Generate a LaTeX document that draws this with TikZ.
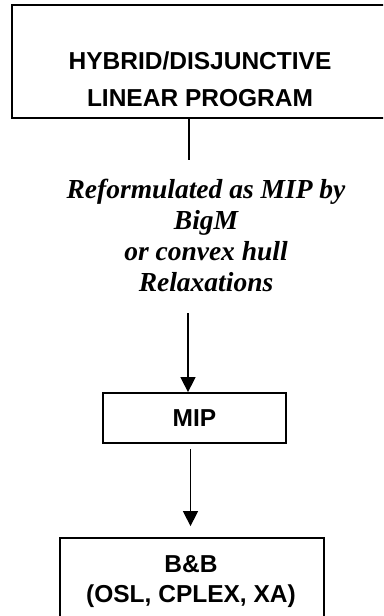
\documentclass[tikz,border=0pt]{standalone}
\usepackage{fontspec}
\setmainfont{Liberation Serif}
\setsansfont{Liberation Sans}
\usetikzlibrary{arrows.meta}
\tikzset{
  boxed/.style={draw=black, line width=1.8pt, inner sep=0pt},
  sanslabel/.style={font=\sffamily\bfseries\fontsize{24.5}{37}\selectfont, align=center, inner sep=0pt},
  itallabel/.style={font=\rmfamily\bfseries\itshape\fontsize{27.5}{31.3}\selectfont, align=center, inner sep=0pt},
  conn/.style={line width=1.5pt},
  arr/.style={line width=1.5pt, -{Triangle[length=15pt,width=15pt]}}
}
\begin{document}
\begin{tikzpicture}[x=1pt,y=-1pt]
\useasboundingbox (0,0) rectangle (383,616);
\clip (0,0) rectangle (383,616);
\fill[white] (0,0) rectangle (383,616);
% top box
\node[boxed, minimum width=376pt, minimum height=113pt] (top) at (200,61.5) {};
\node[sanslabel] (toptext) at (200,79.5) {HYBRID/DISJUNCTIVE\\LINEAR PROGRAM};
% reformulation text
\node[itallabel] (reform) at (206,235.5) {Reformulated as MIP by\\BigM\\or convex hull\\Relaxations};
% MIP box
\node[boxed, minimum width=183pt, minimum height=50pt, font=\sffamily\bfseries\fontsize{24.5}{30}\selectfont] (mip) at (194.5,418) {MIP};
% B&B box
\node[boxed, minimum width=264pt, minimum height=110pt] (bb) at (192,593) {};
\node[sanslabel, font=\sffamily\bfseries\fontsize{24.5}{30}\selectfont] (bbtext) at (191,582) {B\&B\\(OSL, CPLEX, XA)};
% connectors
\coordinate (c1) at (189,160);
\coordinate (c2) at (188,313);
\coordinate (c3) at (190.5,480);
\draw[conn] (c1 |- top.south) -- (c1);
\draw[arr] (c2) -- (c2 |- mip.north);
\draw[arr, shorten <=5pt, shorten >=11pt] (c3 |- mip.south) -- (c3 |- bb.north);
\end{tikzpicture}
\end{document}
